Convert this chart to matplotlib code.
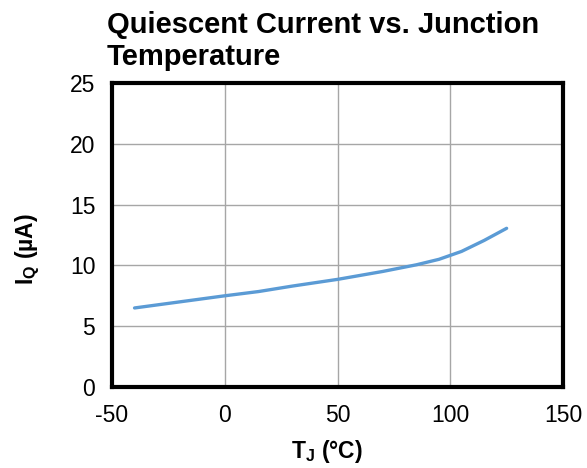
import matplotlib
matplotlib.use("Agg")
import matplotlib.pyplot as plt

plt.rcParams['font.family'] = ['Liberation Sans', 'DejaVu Sans']
plt.rcParams['mathtext.fontset'] = 'custom'
plt.rcParams['mathtext.rm'] = 'Liberation Sans'
plt.rcParams['mathtext.bf'] = 'Liberation Sans:bold'
plt.rcParams['axes.unicode_minus'] = False

temp_c = [-40, -20, 0, 15, 30, 50, 70, 85, 95, 105, 115, 125]
iq_ua = [6.5, 7.0, 7.5, 7.85, 8.3, 8.85, 9.5, 10.05, 10.5, 11.15, 12.05, 13.05]
x_ticks = [-50, 0, 50, 100, 150]
y_ticks = [0, 5, 10, 15, 20, 25]

fig = plt.figure(figsize=(5.87, 4.68), dpi=100)
ax = fig.add_axes([112/587, 1-387/468, (563-112)/587, (387-83)/468])
ax.plot(temp_c, iq_ua, color='#5B9BD5', lw=2.4, solid_capstyle='round',
        solid_joinstyle='round', zorder=3)
ax.set_xlim(-50, 150)
ax.set_ylim(0, 25)
ax.set_xticks(x_ticks)
ax.set_yticks(y_ticks)
ax.grid(True, color='#A6A6A6', lw=1.0)
ax.set_axisbelow(True)
for s in ax.spines.values():
    s.set_linewidth(3)
    s.set_color('black')
ax.tick_params(length=0, labelsize=16.5, pad=12)
ax.set_xlabel(r'$\mathbf{T_J}$ (°C)', fontsize=16.5, fontweight='bold')
ax.set_ylabel(r'$\mathbf{I_Q}$ (µA)', fontsize=16.5, fontweight='bold')
ax.xaxis.set_label_coords(0.477, -0.168)
ax.yaxis.set_label_coords(-0.156, 0.454)
fig.text(107/587, 1-11/468, 'Quiescent Current vs. Junction\nTemperature', ha='left', va='top',
         fontsize=21, fontweight='bold', linespacing=1.2)
fig.savefig('out.png', dpi=100)
